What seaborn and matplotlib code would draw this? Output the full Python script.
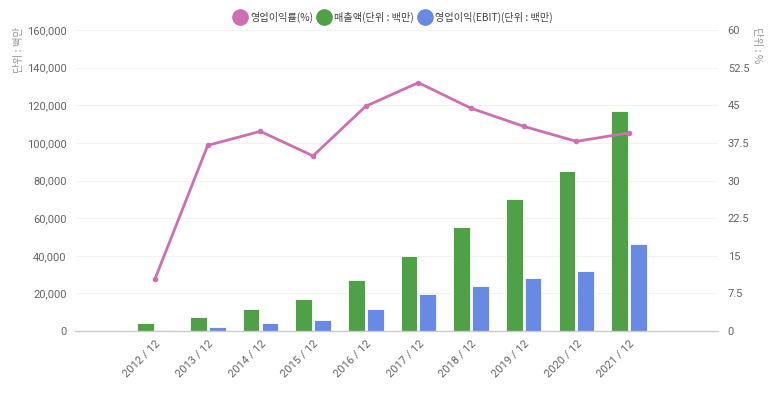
import matplotlib
matplotlib.use("Agg")
import matplotlib.pyplot as plt
from matplotlib.lines import Line2D
import seaborn as sns
import pandas as pd

periods = ["2012 / 12", "2013 / 12", "2014 / 12", "2015 / 12", "2016 / 12",
           "2017 / 12", "2018 / 12", "2019 / 12", "2020 / 12", "2021 / 12"]
sales = [4400, 7300, 11900, 17200, 27000, 39900, 55100, 70000, 85200, 117000]
ebit = [500, 2300, 4400, 5700, 11900, 19500, 24100, 28200, 31900, 46100]
margin = [10.4, 37.0, 39.8, 34.9, 44.8, 49.5, 44.4, 40.8, 37.8, 39.5]

name_sales = "매출액(단위 : 백만)"
name_ebit = "영업이익(EBIT)(단위 : 백만)"
name_margin = "영업이익률(%)"

c_pink = "#cf6fb3"
c_green = "#50a048"
c_blue = "#6889e4"
grey = "#666666"

sns.set_theme(style="white")
plt.rcParams["font.family"] = ["Roboto", "Noto Sans CJK KR", "DejaVu Sans"]

bars = pd.DataFrame({
    "period": periods * 2,
    "value": sales + ebit,
    "series": [name_sales] * len(periods) + [name_ebit] * len(periods),
})
line = pd.DataFrame({"idx": list(range(len(periods))), "margin": margin})

fig = plt.figure(figsize=(7.73, 3.94), dpi=100)
ax = fig.add_axes([75 / 773, 1 - 331 / 394, (718 - 75) / 773, (331 - 30) / 394])

sns.barplot(data=bars, x="period", y="value", hue="series", order=periods,
            hue_order=[name_sales, name_ebit],
            palette=[c_green, c_blue], saturation=1, width=0.72, gap=0.12,
            edgecolor="#ffffff", linewidth=0.6, legend=False, ax=ax)

ax.set_xlim(-1.52, 10.69)
ax.set_ylim(0, 160000)
ax.set_yticks(range(0, 160001, 20000))
ax.set_yticklabels([f"{v:,}" for v in range(0, 160001, 20000)])
ax.yaxis.grid(True, color="#f2f2f2", linewidth=0.8)
ax.set_axisbelow(True)
for s in ["top", "right", "left"]:
    ax.spines[s].set_visible(False)
ax.spines["bottom"].set_color("#cccccc")
ax.spines["bottom"].set_linewidth(1)
ax.tick_params(axis="y", colors=grey, labelsize=8, length=0, pad=6)
ax.tick_params(axis="x", colors=grey, labelsize=8, length=0, pad=5)
plt.setp(ax.get_xticklabels(), rotation=45, ha="right", rotation_mode="anchor")
ax.set_xlabel("")
ax.set_ylabel("")

ax2 = ax.twinx()
sns.lineplot(data=line, x="idx", y="margin", color=c_pink, linewidth=2,
             marker="o", markersize=4, markeredgewidth=0, ax=ax2)
ax2.set_ylim(0, 60)
ax2.set_yticks([0, 7.5, 15, 22.5, 30, 37.5, 45, 52.5, 60])
ax2.set_yticklabels(["0", "7.5", "15", "22.5", "30", "37.5", "45", "52.5", "60"])
for s in ["top", "right", "left", "bottom"]:
    ax2.spines[s].set_visible(False)
ax2.tick_params(axis="y", colors=grey, labelsize=8, length=0, pad=7)
ax2.set_xlabel("")
ax2.set_ylabel("")
ax2.set_xlim(-1.52, 10.69)

cjk = ["Noto Sans CJK KR", "DejaVu Sans"]
fig.text(19 / 773, 1 - 50 / 394, "단위 : 백만", rotation=90, color="#999999",
         fontsize=7.5, ha="center", va="center", family=cjk)
fig.text(757 / 773, 1 - 45 / 394, "단위 : %", rotation=-90, color="#999999",
         fontsize=7.5, ha="center", va="center", family=cjk)

handles = [
    Line2D([], [], linestyle="none", marker="o", markersize=11, color=c_pink),
    Line2D([], [], linestyle="none", marker="o", markersize=11, color=c_green),
    Line2D([], [], linestyle="none", marker="o", markersize=11, color=c_blue),
]
leg = fig.legend(handles, [name_margin, name_sales, name_ebit], loc="center",
                 bbox_to_anchor=(394 / 773, 1 - 17 / 394), ncol=3, frameon=False,
                 handletextpad=0.5, columnspacing=0.6, handlelength=1.0,
                 labelcolor="#444444", prop={"family": cjk, "size": 7.3})

fig.savefig("out.png", dpi=100)
